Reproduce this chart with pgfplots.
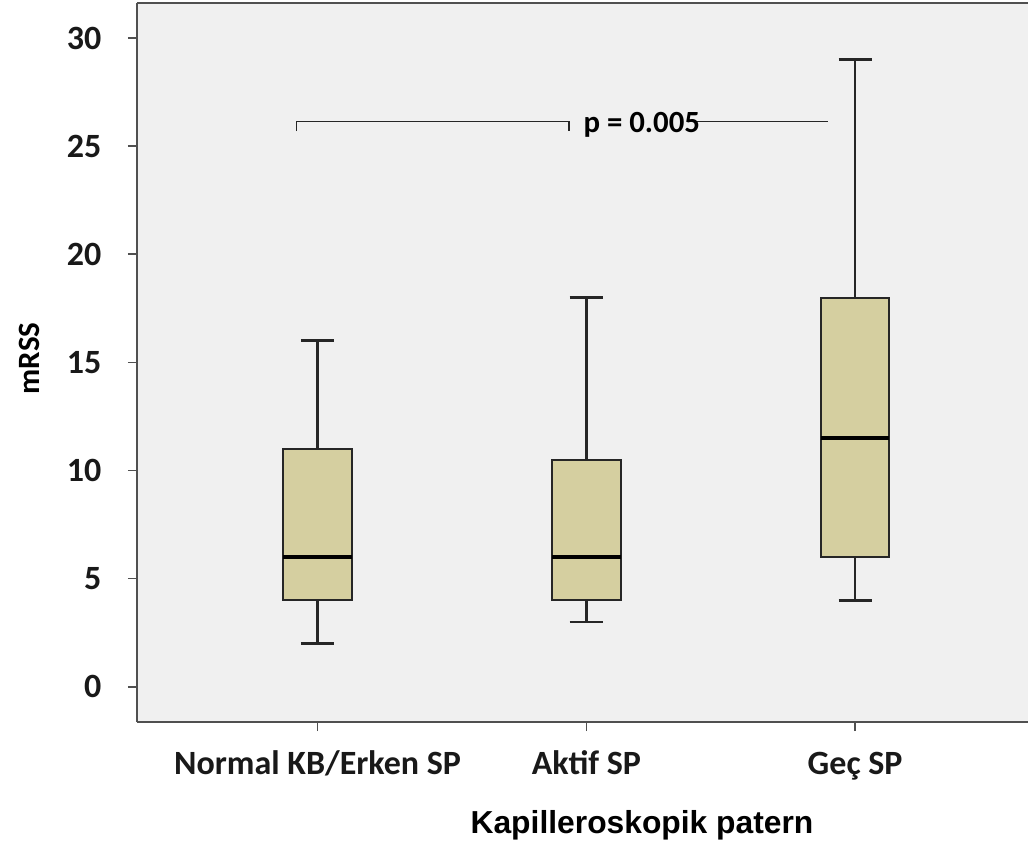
\documentclass[border=0pt]{standalone}
\usepackage{pgfplots}
\pgfplotsset{compat=1.18}
\usepackage{fontspec}
\setmainfont{Carlito}
\newfontfamily\arialfont{Liberation Sans}
\definecolor{boxfill}{RGB}{213,207,160}
\definecolor{bg}{RGB}{240,240,240}
\definecolor{axgray}{RGB}{80,80,80}
\begin{document}
\begin{tikzpicture}
\begin{axis}[name=ax,
  scale only axis, width=445.5pt, height=359.5pt,
  xmin=-0.672, xmax=2.643, ymin=-1.63, ymax=31.62,
  axis background/.style={fill=bg},
  axis lines*=left,
  axis line style={axgray, line width=1.1pt},
  ytick={0,5,10,15,20,25,30},
  xtick={0,1,2},
  xticklabels={Normal KB/Erken SP, Aktif SP, Geç SP},
  tick align=outside, major tick length=4.5pt,
  tick style={axgray, line width=0.8pt},
  /pgf/number format/assume math mode=true,
  ticklabel style={font=\fontsize{17}{20}\selectfont\bfseries, text=black!90},
  xticklabel style={anchor=base, yshift=-21.5pt},
  yticklabel style={anchor=east, xshift=-9.8pt},
  ylabel={mRSS},
  ylabel style={at={(axis description cs:-0.1212,0.5056)}, anchor=center, font=\fontsize{15.5}{18}\selectfont\bfseries},
  xlabel={\arialfont Kapilleroskopik patern},
  xlabel style={at={(axis description cs:0.5668,0)}, anchor=base, yshift=-55.5pt, font=\fontsize{15.9}{19}\selectfont\bfseries},
  clip=false,
  boxst/.style={draw=black!85, line width=1pt, fill=boxfill},
  whisk/.style={black!85, line width=1.3pt},
  med/.style={black, line width=1.8pt},
]
% Box 1: Normal KB/Erken SP (min 2, Q1 4, median 6, Q3 11, max 16)
\addplot[whisk] coordinates {(0,11) (0,16)};
\addplot[whisk] coordinates {(0,2) (0,4)};
\addplot[whisk] coordinates {(-0.062,16) (0.062,16)};
\addplot[whisk] coordinates {(-0.062,2) (0.062,2)};
\addplot[boxst] coordinates {(-0.1275,4) (0.1275,4) (0.1275,11) (-0.1275,11)} -- cycle;
\addplot[med] coordinates {(-0.1275,6) (0.1275,6)};
% Box 2: Aktif SP (min 3, Q1 4, median 6, Q3 10.5, max 18)
\addplot[whisk] coordinates {(1,10.5) (1,18)};
\addplot[whisk] coordinates {(1,3) (1,4)};
\addplot[whisk] coordinates {(0.938,18) (1.062,18)};
\addplot[whisk] coordinates {(0.938,3) (1.062,3)};
\addplot[boxst] coordinates {(0.8725,4) (1.1275,4) (1.1275,10.5) (0.8725,10.5)} -- cycle;
\addplot[med] coordinates {(0.8725,6) (1.1275,6)};
% Box 3: Geç SP (min 4, Q1 6, median 11.5, Q3 18, max 29)
\addplot[whisk] coordinates {(2,18) (2,29)};
\addplot[whisk] coordinates {(2,4) (2,6)};
\addplot[whisk] coordinates {(1.938,29) (2.062,29)};
\addplot[whisk] coordinates {(1.938,4) (2.062,4)};
\addplot[boxst] coordinates {(1.8725,6) (2.1275,6) (2.1275,18) (1.8725,18)} -- cycle;
\addplot[med] coordinates {(1.8725,11.5) (2.1275,11.5)};
% significance bracket
\addplot[black!85, line width=0.6pt] coordinates {(-0.078,25.7) (-0.078,26.15) (0.935,26.15) (0.935,25.7)};
\addplot[black!85, line width=0.6pt] coordinates {(1.397,26.15) (1.90,26.15)};
\node[font=\fontsize{15.4}{18}\selectfont\bfseries, anchor=west, inner sep=0pt] at (axis cs:0.988,26.0) {p = 0.005};
\draw[axgray, line width=1.1pt] (rel axis cs:0,1) -- (rel axis cs:1,1);
\end{axis}
\pgfresetboundingbox
\path[use as bounding box] (ax.south west) ++(-68.5pt,-60.5pt) rectangle ++(514pt,421.5pt);
\end{tikzpicture}
\end{document}
